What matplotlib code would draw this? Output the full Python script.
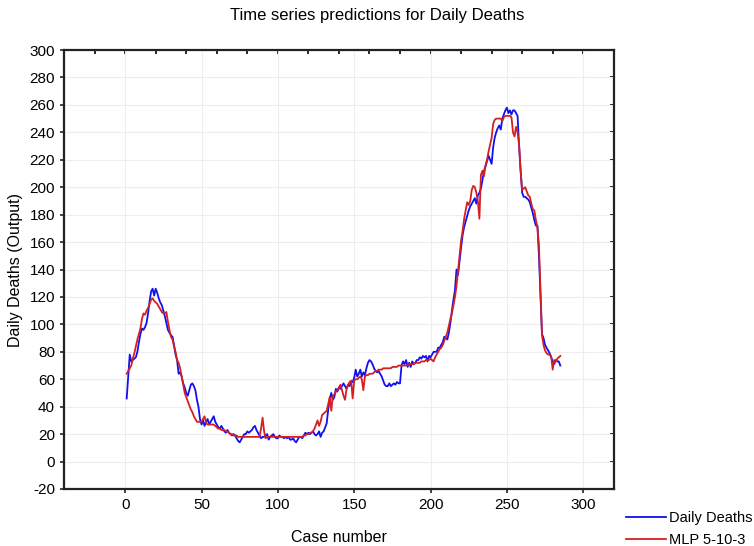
import numpy as np
import matplotlib
matplotlib.use('Agg')
import matplotlib.pyplot as plt

plt.rcParams['font.family'] = ['Liberation Sans', 'DejaVu Sans']
plt.rcParams['axes.unicode_minus'] = False

# observed daily deaths, cases 1..285
actual = [
    46, 62, 78, 73, 74, 75, 76, 80, 87, 93,
    97, 96, 98, 101, 108, 117, 124, 126, 121, 126,
    123, 119, 116, 114, 110, 106, 101, 96, 94, 92,
    91, 85, 78, 74, 64, 65, 62, 57, 54, 50,
    48, 52, 56, 57, 55, 52, 45, 40, 31, 27,
    30, 26, 29, 31, 27, 29, 31, 33, 29, 27,
    25, 24, 26, 24, 22, 21, 23, 21, 20, 19,
    20, 19, 17, 15, 14, 16, 18, 20, 20, 22,
    21, 22, 23, 25, 26, 23, 21, 19, 17, 18,
    18, 19, 20, 16, 18, 19, 20, 18, 17, 17,
    19, 18, 18, 17, 18, 17, 18, 16, 16, 17,
    15, 14, 16, 18, 18, 17, 19, 21, 20, 21,
    20, 21, 22, 20, 19, 20, 22, 18, 21, 22,
    25, 28, 38, 46, 50, 45, 47, 53, 51, 54,
    53, 55, 57, 55, 53, 56, 55, 58, 58, 61,
    67, 62, 64, 67, 62, 65, 63, 68, 72, 74,
    73, 71, 68, 66, 65, 66, 64, 62, 59, 56,
    55, 55, 57, 55, 56, 57, 56, 58, 57, 57,
    70, 73, 71, 74, 69, 72, 69, 73, 71, 72,
    74, 74, 76, 75, 77, 76, 77, 73, 77, 76,
    78, 80, 80, 80, 83, 83, 85, 87, 91, 90,
    89, 94, 101, 110, 118, 125, 140, 136, 146, 156,
    165, 171, 175, 179, 183, 186, 188, 190, 192, 188,
    194, 196, 199, 205, 212, 215, 219, 223, 220, 217,
    229, 236, 240, 243, 245, 242, 250, 253, 256, 258,
    254, 256, 253, 256, 256, 254, 252, 230, 212, 196,
    193, 193, 192, 191, 189, 185, 181, 176, 172, 172,
    150, 122, 93, 90, 85, 83, 81, 79, 76, 73,
    71, 74, 73, 73, 70,
]

# MLP 5-10-3 predictions, cases 1..285
predicted = [
    64, 66, 68, 70, 75, 79, 84, 89, 93, 97,
    104, 108, 107, 110, 112, 115, 118, 119, 117, 116,
    115, 113, 111, 109, 108, 108, 109, 102, 96, 91,
    89, 84, 80, 74, 72, 68, 62, 56, 50, 47,
    44, 41, 38, 36, 33, 31, 29, 29, 29, 29,
    31, 33, 28, 27, 27, 27, 27, 27, 26, 25,
    24, 24, 23, 23, 23, 22, 22, 21, 20, 20,
    19, 19, 19, 18, 18, 18, 18, 18, 18, 18,
    18, 18, 18, 18, 18, 18, 18, 18, 24, 32,
    22, 17, 18, 18, 18, 18, 18, 18, 18, 18,
    18, 18, 18, 18, 18, 18, 18, 18, 18, 18,
    18, 18, 18, 18, 18, 18, 19, 19, 20, 20,
    21, 21, 22, 24, 27, 30, 26, 29, 34, 35,
    36, 37, 42, 47, 37, 48, 49, 51, 52, 54,
    56, 52, 48, 45, 53, 56, 58, 59, 46, 59,
    60, 60, 61, 62, 60, 52, 62, 63, 63, 64,
    64, 64, 65, 66, 66, 67, 67, 67, 68, 68,
    68, 68, 68, 68, 69, 69, 69, 69, 70, 70,
    70, 70, 70, 70, 70, 71, 71, 71, 71, 72,
    72, 72, 72, 73, 73, 73, 74, 74, 74, 75,
    74, 73, 76, 78, 80, 82, 83, 85, 88, 91,
    94, 99, 104, 108, 114, 120, 128, 139, 150, 161,
    168, 177, 183, 189, 187, 190, 198, 201, 200, 196,
    190, 177, 209, 212, 208, 216, 220, 226, 231, 236,
    246, 249, 250, 250, 250, 250, 248, 251, 252, 252,
    252, 252, 251, 240, 237, 244, 240, 231, 212, 198,
    199, 200, 197, 194, 193, 188, 184, 183, 176, 171,
    158, 125, 92, 85, 81, 79, 78, 78, 77, 67,
    74, 73, 75, 76, 77,
]

cases = np.arange(1, len(actual) + 1)

x_ticks = [0, 50, 100, 150, 200, 250, 300]
y_ticks = list(range(-20, 301, 20))

fig = plt.figure(figsize=(7.54, 5.46), dpi=100)
ax = fig.add_axes([0.085, 0.1044, 0.729, 0.804])

ax.plot(cases, actual, color='#1010F0', linewidth=1.3, label='Daily Deaths')
ax.plot(cases, predicted, color='#D42020', linewidth=1.3, label='MLP 5-10-3')

ax.set_xlim(-40, 320)
ax.set_ylim(-20, 300)
ax.set_xticks(x_ticks)
ax.set_yticks(y_ticks)
ax.grid(True, color='#EDEDED', linewidth=0.8)
ax.set_axisbelow(True)

for s in ax.spines.values():
    s.set_linewidth(1.6)
    s.set_color('#222222')

ax.tick_params(axis='both', direction='out', length=3, width=1.2, labelsize=11,
               colors='#222222', labelcolor='black')

# STATISTICA-style inner ticks on top and right
top = ax.secondary_xaxis('top')
top.set_xticks(np.arange(-20, 320, 20))
top.set_xticklabels([])
top.tick_params(direction='in', length=3, width=1.2)
top.spines['top'].set_visible(False)
right = ax.secondary_yaxis('right')
right.set_yticks(y_ticks[1:-1])
right.set_yticklabels([])
right.tick_params(direction='in', length=3, width=1.2)
right.spines['right'].set_visible(False)

ax.set_xlabel('Case number', fontsize=11.5, labelpad=13)
ax.set_ylabel('Daily Deaths (Output)', fontsize=11.5, labelpad=5)

fig.suptitle('Time series predictions for Daily Deaths', x=0.5, y=0.985,
             fontsize=12, family=['Liberation Sans Narrow', 'Liberation Sans'])

fig.legend(loc='lower right', bbox_to_anchor=(1.006, -0.012), frameon=False,
           fontsize=10.5, handlelength=2.75, handletextpad=0.2,
           labelspacing=0.55, borderaxespad=0.0)

fig.savefig('out.png', dpi=100)
